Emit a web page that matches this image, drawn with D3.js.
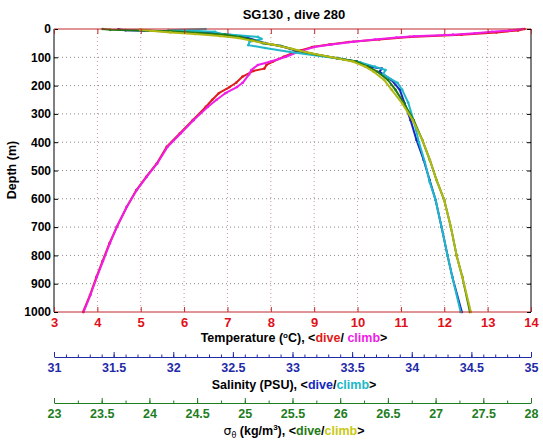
<!DOCTYPE html>
<html>
<head>
<meta charset="utf-8">
<script src="https://cdn.jsdelivr.net/npm/d3@7"></script>
<style>
  html,body{margin:0;padding:0;background:#fff;}
  svg{display:block;font-family:"Liberation Sans",Arial,Helvetica,sans-serif;font-weight:bold;}
</style>
</head>
<body>
<svg id="chart" width="543" height="442"></svg>
<script>
// ---------------- data ----------------
const title = "SG130 , dive 280";
const depthTicks = [0,100,200,300,400,500,600,700,800,900,1000];
const tempTicks = [3,4,5,6,7,8,9,10,11,12,13,14];
const salTicks = [31,31.5,32,32.5,33,33.5,34,34.5,35];
const sigTicks = [23,23.5,24,24.5,25,25.5,26,26.5,27,27.5,28];

// Temperature dive (red)
const tempDiveDepth = [0,5,12,20,28,37,46,55,64,75,85,98,115,127,140,148,168,190,205,227,250,275,322,369,416,475,522,569,628,699,757,820,876,940,1000];
const tempDive      = [13.85,13.7,13.2,12.4,11.2,10.5,9.8,9.35,8.95,8.7,8.5,8.3,8.05,7.9,7.85,7.6,7.35,7.2,7.05,6.8,6.65,6.5,6.2,5.9,5.6,5.37,5.13,4.9,4.68,4.45,4.28,4.12,3.98,3.83,3.67];
// Temperature climb (magenta)
const tempClimbDepth = [0,5,10,15,20,26,30,37,45,55,64,80,98,115,127,145,160,190,205,227,250,275,322,369,416,475,522,569,628,699,757,820,876,940,1000];
const tempClimb      = [13.8,13.5,13.1,12.7,12.2,11.3,10.9,10.4,9.9,9.4,9.0,8.65,8.35,8.0,7.7,7.55,7.5,7.35,7.22,6.95,6.75,6.55,6.22,5.92,5.62,5.38,5.14,4.91,4.68,4.45,4.29,4.13,3.99,3.84,3.68];

// Salinity dive (blue)
const salDiveDepth = [1,4,10,15,21,28,40,50,60,75,90,103,115,133,140,151,180,215,263,322,392,463,534,604,700,800,876,1000];
const salDive      = [31.54,31.6,32.1,32.35,32.48,32.6,32.69,32.77,32.9,33.02,33.19,33.37,33.54,33.65,33.75,33.73,33.83,33.9,33.94,33.99,34.04,34.1,34.15,34.2,34.25,34.3,34.34,34.42];
// Salinity climb (cyan)
const salClimbDepth = [0,4,10,18,28,35,45,57,67,81,95,105,118,133,145,160,190,215,260,330,400,470,540,604,700,800,876,1000];
const salClimb      = [32.27,31.96,32.35,32.41,32.71,32.74,32.64,32.63,32.77,32.98,33.23,33.4,33.57,33.69,33.78,33.76,33.88,33.92,33.97,34.02,34.06,34.11,34.15,34.2,34.25,34.3,34.34,34.41];

// Sigma-theta dive (green)
const sigDiveDepth = [0,3,8,14,20,28,40,50,60,75,90,103,115,133,151,180,215,263,322,392,463,534,604,700,800,876,1000];
const sigDive      = [23.51,23.59,24.22,24.53,24.79,24.95,25.09,25.19,25.38,25.54,25.75,25.97,26.17,26.29,26.39,26.5,26.58,26.67,26.77,26.86,26.94,27.01,27.09,27.16,27.22,27.28,27.36];
// Sigma-theta climb (yellow)
const sigClimbDepth = [2,6,12,18,25,32,42,55,70,85,100,115,133,151,180,215,263,322,392,463,534,604,700,800,876,1000];
const sigClimb      = [23.9,24.01,24.22,24.48,24.74,24.93,25.08,25.29,25.49,25.68,25.91,26.13,26.26,26.35,26.46,26.54,26.65,26.76,26.86,26.94,27.01,27.09,27.16,27.22,27.28,27.37];

// ---------------- layout ----------------
const L = 54, R = 531, T = 29, B = 312;
const svg = d3.select("#chart");

const y  = d3.scaleLinear().domain([0,1000]).range([T,B]);
const xT = d3.scaleLinear().domain([3,14]).range([L,R]);
const xS = d3.scaleLinear().domain([31,35]).range([L,R]);
const xD = d3.scaleLinear().domain([23,28]).range([L,R]);

const cRedAxis = "#c0282a", cTempLab = "#e0101a";
const cBlue = "#1f2aa8", cGreen = "#1e7d1e";

// grid
const grid = svg.append("g");
grid.selectAll(".vg").data(tempTicks.slice(1,-1)).join("line")
  .attr("x1", d=>xT(d)).attr("x2", d=>xT(d)).attr("y1", T).attr("y2", B)
  .attr("stroke", "#c89a9a").attr("stroke-width", 1).attr("stroke-dasharray", "1,3");
grid.selectAll(".hg").data(depthTicks.slice(1,-1)).join("line")
  .attr("x1", L).attr("x2", R).attr("y1", d=>y(d)).attr("y2", d=>y(d))
  .attr("stroke", "#8a8a8a").attr("stroke-width", 1).attr("stroke-dasharray", "1,3");

// series
function drawSeries(depths, vals, xs, color, w){
  const pts = depths.map((d,i)=>[xs(vals[i]), y(d)]);
  svg.append("path").attr("d", d3.line()(pts))
    .attr("fill","none").attr("stroke",color).attr("stroke-width",w)
    .attr("stroke-linejoin","round").attr("stroke-linecap","round");
  svg.append("g").selectAll("circle").data(pts).join("circle")
    .attr("cx", p=>p[0]).attr("cy", p=>p[1]).attr("r", 1.3).attr("fill", color);
}
drawSeries(tempDiveDepth, tempDive, xT, "#e01b1b", 2);
drawSeries(tempClimbDepth, tempClimb, xT, "#f01ce8", 2);
drawSeries(salDiveDepth, salDive, xS, "#1428c0", 2);
drawSeries(salClimbDepth, salClimb, xS, "#20b8c8", 2);
drawSeries(sigDiveDepth, sigDive, xD, "#1e7a14", 2);
drawSeries(sigClimbDepth, sigClimb, xD, "#b4b814", 2);

// box
svg.append("line").attr("x1",L).attr("x2",R).attr("y1",T).attr("y2",T).attr("stroke",cRedAxis);
svg.append("line").attr("x1",L).attr("x2",R).attr("y1",B).attr("y2",B).attr("stroke",cRedAxis);
svg.append("line").attr("x1",L).attr("x2",L).attr("y1",T).attr("y2",B).attr("stroke","#000");
svg.append("line").attr("x1",R).attr("x2",R).attr("y1",T).attr("y2",B).attr("stroke","#000");

// left axis
const ax = svg.append("g").attr("transform",`translate(${L},0)`)
  .call(d3.axisLeft(y).tickValues(depthTicks).tickSize(-4).tickPadding(3).tickFormat(d3.format("d")));
ax.select(".domain").remove();
ax.selectAll("line").attr("stroke","#000");
ax.selectAll("text").attr("fill","#000").style("font-size","12px").style("font-weight","bold").style("font-family","Liberation Sans, Arial, sans-serif");
// right ticks
const axr = svg.append("g").attr("transform",`translate(${R},0)`)
  .call(d3.axisRight(y).tickValues(depthTicks).tickSize(-4).tickFormat(""));
axr.select(".domain").remove();
axr.selectAll("line").attr("stroke","#000");

// top ticks (temperature)
const axt = svg.append("g").attr("transform",`translate(0,${T})`)
  .call(d3.axisTop(xT).tickValues(tempTicks).tickSize(-5).tickFormat(""));
axt.select(".domain").remove();
axt.selectAll("line").attr("stroke",cRedAxis);
// bottom temperature axis
const axb = svg.append("g").attr("transform",`translate(0,${B})`)
  .call(d3.axisBottom(xT).tickValues(tempTicks).tickSize(-5).tickPadding(6).tickFormat(d3.format("d")));
axb.select(".domain").remove();
axb.selectAll("line").attr("stroke",cRedAxis);
axb.selectAll("text").attr("fill",cTempLab).style("font-size","13px").style("font-weight","bold").style("font-family","Liberation Sans, Arial, sans-serif");

// salinity axis
function extraAxis(scale, ypos, major, minor, color, fmt){
  const g = svg.append("g").attr("transform",`translate(0,${ypos})`);
  const gm = g.append("g").call(d3.axisBottom(scale).tickValues(minor).tickSize(-2.5).tickSizeOuter(0).tickFormat(""));
  gm.select(".domain").remove();
  gm.selectAll("line").attr("stroke",color);
  const gM = g.append("g").call(d3.axisBottom(scale).tickValues(major).tickSize(-5).tickSizeOuter(0).tickPadding(6).tickFormat(fmt));
  gM.select(".domain").attr("stroke",color);
  gM.selectAll("line").attr("stroke",color);
  gM.selectAll("text").attr("fill",color).style("font-size","12.5px").style("font-weight","bold").style("font-family","Liberation Sans, Arial, sans-serif");
}
const salMinor = d3.range(0,41).map(i=>31+i*0.1);
const sigMinor = d3.range(0,21).map(i=>23+i*0.25);
extraAxis(xS, 357, salTicks, salMinor, cBlue, d=>String(d));
extraAxis(xD, 403, sigTicks, sigMinor, cGreen, d=>String(d));

// titles
const cx = 294;
svg.append("text").attr("x",cx).attr("y",19).attr("text-anchor","middle")
  .style("font-size","13px").text(title);

const t1 = svg.append("text").attr("x",cx).attr("y",342).attr("text-anchor","middle").style("font-size","12.5px");
t1.append("tspan").text("Temperature (");
t1.append("tspan").attr("dy",-4).style("font-size","8px").text("o");
t1.append("tspan").attr("dy",4).text("C), <");
t1.append("tspan").attr("fill","#e01b1b").text("dive");
t1.append("tspan").text("/ ");
t1.append("tspan").attr("fill","#f01ce8").text("climb");
t1.append("tspan").text(">");

const t2 = svg.append("text").attr("x",cx).attr("y",389).attr("text-anchor","middle").style("font-size","12.5px");
t2.append("tspan").text("Salinity (PSU), <");
t2.append("tspan").attr("fill","#1428c0").text("dive");
t2.append("tspan").text("/");
t2.append("tspan").attr("fill","#20b8c8").text("climb");
t2.append("tspan").text(">");

const t3 = svg.append("text").attr("x",cx).attr("y",435).attr("text-anchor","middle").style("font-size","12.5px");
t3.append("tspan").style("font-family","DejaVu Sans").style("font-weight","normal").text("σ");
t3.append("tspan").attr("dy",3).style("font-size","8px").style("font-family","DejaVu Sans").style("font-weight","normal").text("θ");
t3.append("tspan").attr("dy",-3).text(" (kg/m");
t3.append("tspan").attr("dy",-5).style("font-size","8px").text("3");
t3.append("tspan").attr("dy",5).text("), <");
t3.append("tspan").attr("fill","#1e7a14").text("dive");
t3.append("tspan").text("/");
t3.append("tspan").attr("fill","#c8c814").text("climb");
t3.append("tspan").text(">");

// y label
svg.append("text").attr("transform","translate(16,170) rotate(-90)").attr("text-anchor","middle")
  .style("font-size","12.5px").text("Depth (m)");
</script>
</body>
</html>
